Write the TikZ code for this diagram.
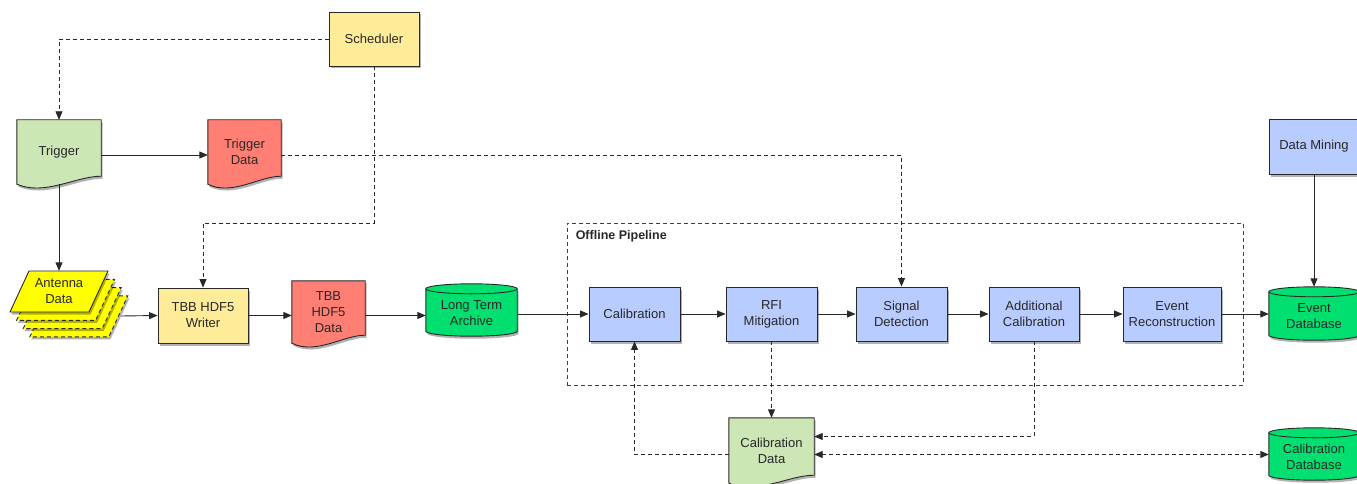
\documentclass[tikz,border=0pt]{standalone}
\usepackage{fontspec}
\setmainfont{Liberation Sans}
\usetikzlibrary{arrows.meta,shadows,calc}
\pgfdeclarelayer{background}
\pgfsetlayers{background,main}
\definecolor{boxyellow}{RGB}{255,236,153}
\definecolor{docgreen}{RGB}{204,230,181}
\definecolor{docred}{RGB}{255,127,116}
\definecolor{boxblue}{RGB}{185,204,255}
\definecolor{cylgreen}{RGB}{0,223,112}
\definecolor{antyellow}{RGB}{255,255,0}
\definecolor{ink}{RGB}{40,40,40}
\tikzset{
  shadowed/.style={drop shadow={shadow xshift=1.5pt, shadow yshift=-2.5pt, opacity=0.3, fill=black}},
  outline/.style={draw=ink, line width=0.9pt},
  txt/.style={font=\fontsize{13}{16}\selectfont, text=ink, align=center},
  procbox/.style={outline, shadowed, rectangle, inner sep=0pt, txt},
  txtnode/.style={rectangle, inner sep=0pt, txt},
  conn/.style={draw=ink, line width=0.9pt, -{Triangle[length=8.5pt,width=7pt]}},
  dconn/.style={conn, dash pattern=on 4pt off 3pt},
  biconn/.style={draw=ink, line width=0.9pt, dash pattern=on 4pt off 3pt, {Triangle[length=8.5pt,width=7pt]}-{Triangle[length=8.5pt,width=7pt]}},
  pipebox/.style={draw=black!75, line width=0.9pt, dash pattern=on 4pt off 3pt, rectangle, inner sep=0pt}
}
\newcommand\docshape[2]{%
  \path[outline, fill=#2, shadowed] let \p1=(#1.north west), \p2=(#1.south east), \n1={\x2-\x1} in
  (\x1,\y1) -- (\x2,\y1) -- (\x2,\y2+8pt) .. controls (\x2-0.3*\n1,\y2+8pt) and (\x1+0.33*\n1,\y2-12pt) .. (\x1,\y2) -- cycle;}
% cylinder: node box spans from the top of the cylinder to 6px below its bottom
\newcommand\cylshape[2]{%
  \path[outline, fill=#2, shadowed] let \p1=(#1.north west), \p2=(#1.south east), \n1={(\x2-\x1)/2} in
  (\x1,\y1-5pt) -- (\x1,\y2+11pt) arc[start angle=180, end angle=360, x radius=\n1, y radius=5pt]
  -- (\x2,\y1-5pt) arc[start angle=0, end angle=180, x radius=\n1, y radius=5pt] -- cycle;
  \path[outline] let \p1=(#1.north west), \p2=(#1.south east), \n1={(\x2-\x1)/2} in
  (\x1,\y1-5pt) arc[start angle=180, end angle=360, x radius=\n1, y radius=5pt];}
\begin{document}
\begin{tikzpicture}[x=1pt,y=-1pt]
\useasboundingbox (0,0) rectangle (1357,484);

% pipeline frame
\node[pipebox, minimum width=676, minimum height=162] (pipeline) at (905,304) {};
\node[anchor=west, font=\fontsize{12.5}{15}\selectfont\bfseries, text=ink, inner sep=0pt] (pipelabel) at ($(pipeline.north west)+(9,14)$) {Offline Pipeline};

% rectangular process boxes
\node[procbox, fill=boxyellow, minimum width=90, minimum height=54] (sched) at (374,39) {Scheduler};
\node[procbox, fill=boxyellow, minimum width=90, minimum height=55] (writer) at (203,315.5) {TBB HDF5\\Writer};
\node[procbox, fill=boxblue, minimum width=91, minimum height=54] (calib) at (634.5,314) {Calibration};
\node[procbox, fill=boxblue, minimum width=91, minimum height=54] (rfi) at (771.5,314) {RFI\\Mitigation};
\node[procbox, fill=boxblue, minimum width=91, minimum height=54] (sigdet) at (901.5,314) {Signal\\Detection};
\node[procbox, fill=boxblue, minimum width=90, minimum height=54] (addcal) at (1034,314) {Additional\\Calibration};
\node[procbox, fill=boxblue, minimum width=98, minimum height=54] (eventrec) at (1172,314) {Event\\Reconstruction};
\node[procbox, fill=boxblue, minimum width=90, minimum height=55] (mining) at (1314,146.5) {Data Mining};

% documents
\node[txtnode, minimum width=84, minimum height=64] (trigger) at (59,152) {Trigger};
\node[txtnode, minimum width=73, minimum height=64] (trigdata) at (244.5,152) {Trigger\\Data};
\node[txtnode, minimum width=73, minimum height=62] (tbbdata) at (328.5,312) {TBB\\HDF5\\Data};
\node[txtnode, minimum width=85, minimum height=65] (caldata) at (771.5,450.5) {Calibration\\Data};

% cylinders
\node[txtnode, minimum width=91, minimum height=58] (archive) at (471.5,313) {Long Term\\Archive};
\node[txtnode, minimum width=90, minimum height=59] (eventdb) at (1314,316.5) {Event\\Database};
\node[txtnode, minimum width=90, minimum height=58] (caldb) at (1314,457) {Calibration\\Database};

% antenna data
\node[txtnode, minimum width=60, minimum height=41] (antenna) at (59,291.5) {Antenna\\Data};
\coordinate (antout) at (121,316);

\begin{pgfonlayer}{background}
  \docshape{trigger}{docgreen}
  \docshape{trigdata}{docred}
  \docshape{tbbdata}{docred}
  \docshape{caldata}{docgreen}
  \cylshape{archive}{cylgreen}
  \cylshape{eventdb}{cylgreen}
  \cylshape{caldb}{cylgreen}
  \foreach \k in {3,2,1}{
    \path[outline, dash pattern=on 4pt off 3pt, fill=antyellow, shadowed, shift={(\k*6.6,\k*8.3)}]
      (29,271) -- (108,271) -- (89,312) -- (10,312) -- cycle;
  }
  \path[outline, fill=antyellow, shadowed] (29,271) -- (108,271) -- (89,312) -- (10,312) -- cycle;
\end{pgfonlayer}

% connectors
\draw[dconn] (sched.west) -| (trigger.north);
\draw[dconn] (sched.south) |- ($(writer.north)+(0,-64)$) -- (writer.north);
\draw[conn] ([yshift=-3pt]trigger.east) -- ([yshift=-3pt]trigdata.west);
\draw[dconn] ([yshift=-3pt]trigdata.east) -| (sigdet.north);
\draw[conn] (trigger.south) -- (antenna.north);
\draw[conn] (antout) -- (writer.west);
\draw[conn] (writer.east) -- (writer.east -| tbbdata.west);
\draw[conn] (tbbdata.east |- writer.east) -- (archive.west |- writer.east);
\draw[conn] (archive.east |- calib.west) -- (calib.west);
\draw[conn] (calib.east) -- (rfi.west);
\draw[conn] (rfi.east) -- (sigdet.west);
\draw[conn] (sigdet.east) -- (addcal.west);
\draw[conn] (addcal.east) -- (eventrec.west);
\draw[conn] (eventrec.east) -- (eventrec.east -| eventdb.west);
\draw[conn] (mining.south) -- (eventdb.north);
\draw[dconn] (rfi.south) -- (caldata.north);
\draw[dconn] (addcal.south) |- ($(caldata.east)+(0,-14)$);
\draw[dconn] ($(caldata.west)+(0,4)$) -| (calib.south);
\draw[biconn] ($(caldata.east)+(0,4)$) -- (caldb.west |- {$(caldata.east)+(0,4)$});
\end{tikzpicture}
\end{document}
